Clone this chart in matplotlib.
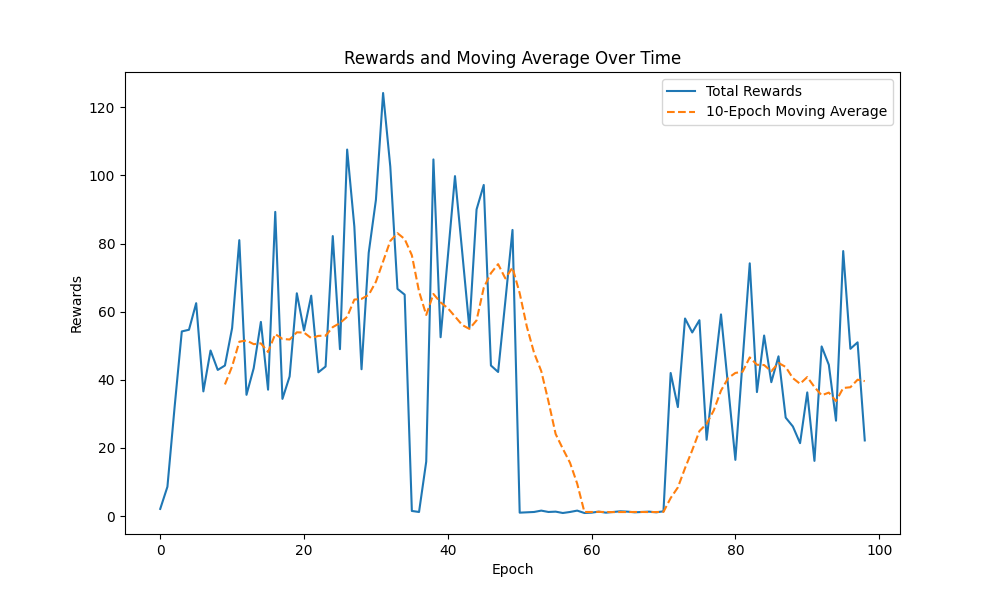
import matplotlib
matplotlib.use("Agg")
import matplotlib.pyplot as plt
import numpy as np
import pandas as pd

epochs = list(range(99))
total_rewards = [
    2.1, 8.6, 32.0, 54.2, 54.7, 62.5, 36.6, 48.6, 42.9, 44.2,
    55.2, 81.0, 35.6, 43.4, 57.0, 37.1, 89.3, 34.4, 41.0, 65.4,
    54.5, 64.7, 42.2, 43.9, 82.2, 49.0, 107.6, 85.0, 43.1, 77.3,
    92.8, 124.2, 102.6, 66.7, 65.0, 1.5, 1.2, 16.0, 104.7, 52.5,
    76.0, 99.8, 77.6, 55.2, 90.0, 97.2, 44.2, 42.3, 63.0, 84.0,
    1.0, 1.1, 1.2, 1.6, 1.2, 1.3, 0.9, 1.2, 1.6, 0.9,
    1.0, 1.3, 1.0, 1.2, 1.4, 1.3, 1.1, 1.2, 1.3, 1.1,
    1.4, 42.0, 32.0, 58.0, 53.9, 57.5, 22.4, 40.8, 59.2, 37.9,
    16.5, 45.4, 74.2, 36.4, 53.0, 39.3, 46.9, 28.9, 26.3, 21.4,
    36.3, 16.2, 49.8, 44.4, 28.0, 77.8, 49.1, 51.0, 22.2,
]
window = 10
moving_avg = pd.Series(total_rewards).rolling(window).mean()

fig, ax = plt.subplots(figsize=(10, 6), dpi=100)
ax.plot(epochs, total_rewards, label="Total Rewards")
ax.plot(epochs, moving_avg, linestyle="--", label="10-Epoch Moving Average")
ax.set_title("Rewards and Moving Average Over Time")
ax.set_xlabel("Epoch")
ax.set_ylabel("Rewards")
ax.legend()
fig.savefig("out.png", dpi=100)
